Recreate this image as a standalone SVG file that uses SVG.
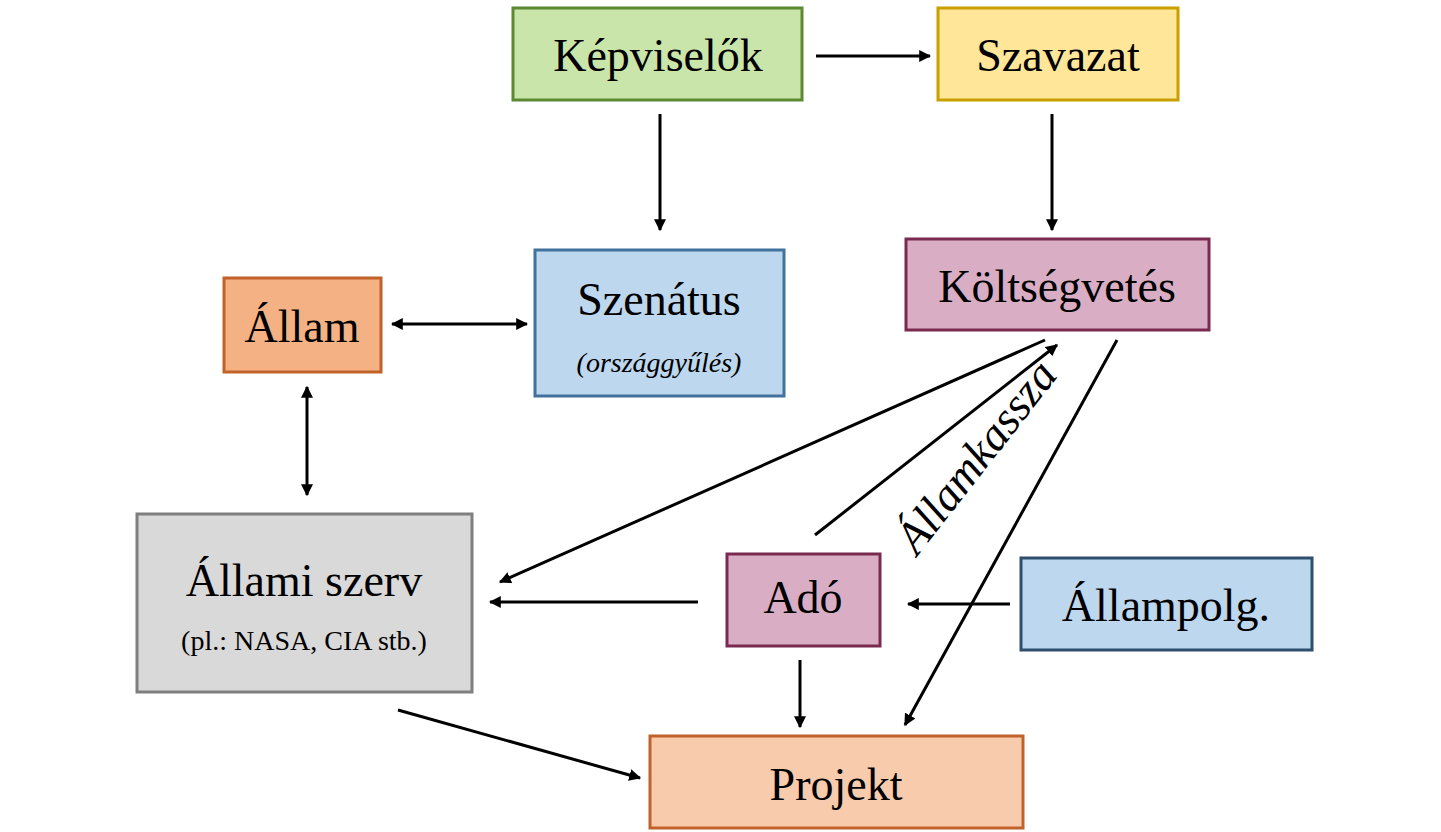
<svg xmlns="http://www.w3.org/2000/svg" width="1441" height="832" viewBox="0 0 1441 832">
<style>
rect{stroke-width:3}
text{font-family:"Liberation Serif","DejaVu Serif",serif;fill:#000;text-anchor:middle}
.t{font-size:46px}
.s{font-size:28px}
.c line{stroke:#000;stroke-width:3}
</style>
<defs>
<marker id="a" viewBox="0 0 10 10" refX="9" refY="5" markerWidth="4" markerHeight="4" orient="auto-start-reverse"><path d="M0,0L10,5L0,10z" fill="#000"/></marker>
</defs>
<rect width="1441" height="832" fill="#fff" style="stroke:none"/>
<g id="kepviselok"><rect x="513" y="8" width="289" height="92" fill="#c9e5a9" stroke="#5b8a32"/><text class="t" x="658" y="71">Képviselők</text></g>
<g id="szavazat"><rect x="938" y="8" width="240" height="92" fill="#ffe699" stroke="#c9a000"/><text class="t" x="1058" y="71">Szavazat</text></g>
<g id="allam"><rect x="224" y="278" width="157" height="94" fill="#f4b183" stroke="#c0622a"/><text class="t" x="302" y="342">Állam</text></g>
<g id="szenatus"><rect x="535" y="250" width="249" height="146" fill="#bdd7ee" stroke="#41719c"/><text class="t" x="659" y="315">Szenátus</text><text class="s" x="659" y="372" font-style="italic">(országgyűlés)</text></g>
<g id="koltsegvetes"><rect x="906" y="239" width="303" height="91" fill="#d9aec4" stroke="#7a2a50"/><text class="t" x="1057" y="302">Költségvetés</text></g>
<g id="allamiszerv"><rect x="137" y="514" width="335" height="178" fill="#d9d9d9" stroke="#7f7f7f"/><text class="t" x="304" y="596">Állami szerv</text><text class="s" x="304" y="650">(pl.: NASA, CIA stb.)</text></g>
<g id="ado"><rect x="727" y="554" width="153" height="92" fill="#d9aec4" stroke="#7a2a50"/><text class="t" x="803" y="613">Adó</text></g>
<g id="allampolg"><rect x="1021" y="558" width="291" height="92" fill="#bdd7ee" stroke="#2f4f6f"/><text class="t" x="1166" y="621">Állampolg.</text></g>
<g id="projekt"><rect x="650" y="736" width="373" height="92" fill="#f8cbad" stroke="#c0622a"/><text class="t" x="836" y="800">Projekt</text></g>
<g class="c" id="connectors">
<line x1="816" y1="56" x2="930" y2="56" marker-end="url(#a)"/>
<line x1="660" y1="114" x2="660" y2="230" marker-end="url(#a)"/>
<line x1="1052" y1="114" x2="1052" y2="230" marker-end="url(#a)"/>
<line x1="392" y1="324" x2="527" y2="324" marker-start="url(#a)" marker-end="url(#a)"/>
<line x1="307" y1="387" x2="307" y2="495" marker-start="url(#a)" marker-end="url(#a)"/>
<line x1="1045" y1="340" x2="500" y2="582" marker-end="url(#a)"/>
<line x1="815" y1="535" x2="1057" y2="345" marker-end="url(#a)"/>
<line x1="1117" y1="340" x2="905" y2="725" marker-end="url(#a)"/>
<line x1="698" y1="602" x2="490" y2="602" marker-end="url(#a)"/>
<line x1="1010" y1="604" x2="908" y2="604" marker-end="url(#a)"/>
<line x1="800" y1="660" x2="800" y2="727" marker-end="url(#a)"/>
<line x1="398" y1="710" x2="640" y2="778" marker-end="url(#a)"/>
<text class="t" font-style="italic" font-size="42" transform="translate(988,466) rotate(-52)">Államkassza</text>
</g>
</svg>
